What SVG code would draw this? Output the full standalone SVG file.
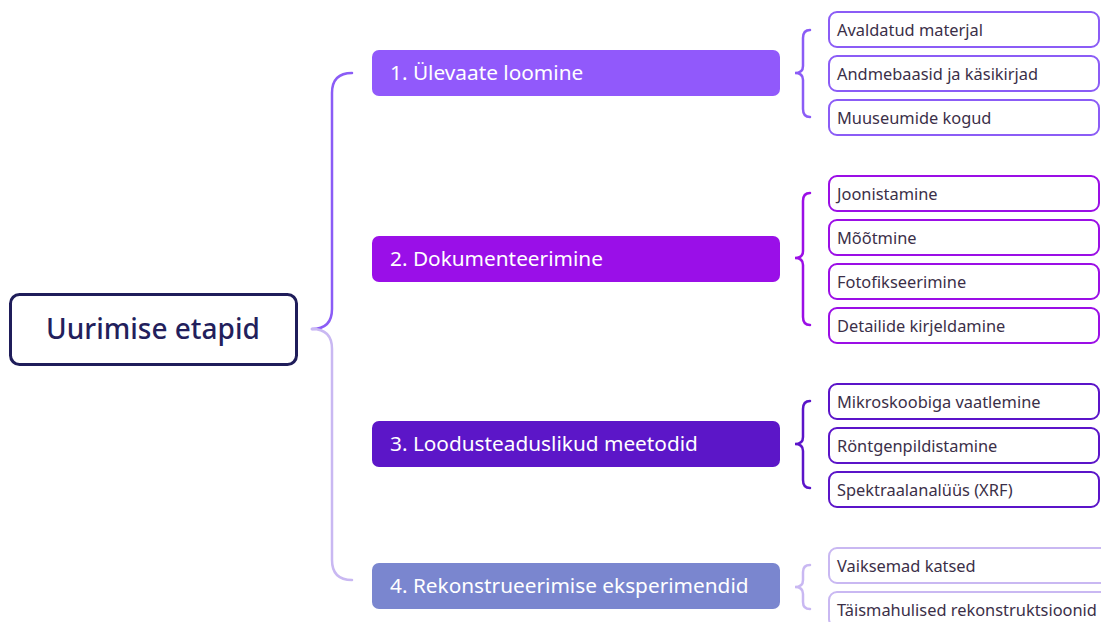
<svg xmlns="http://www.w3.org/2000/svg" width="1101" height="622" viewBox="0 0 1101 622">
<style>
.root{fill:#fff;stroke:#1f1d5a;stroke-width:3}
.roott{font-family:"Noto Sans",sans-serif;font-size:28px;fill:#231f5c;font-weight:500}
.stage{stroke:none}
.staget{font-family:"Noto Sans",sans-serif;font-size:20.8px;fill:#fff}
.leaf{fill:#fff;stroke-width:2}
.leaft{font-family:"Noto Sans",sans-serif;font-size:16.4px;fill:#3b2f48}
.br{fill:none;stroke-width:2.5;stroke-linecap:round}
</style>
<rect width="1101" height="622" fill="#fff"/>
<g id="connectors">
<path class="br" stroke="#8b5cf6" d="M352,73 Q332,73 332,93 L332,309 Q332,329 312,329"/>
<path class="br" stroke="#c9b8f2" d="M312,329 Q332,329 332,349 L332,560 Q332,580 352,580"/>
<path class="br" stroke="#8b5cf6" d="M810,30 Q803,30 803,38 L803,66 Q803,73 795,73 Q803,73 803,80 L803,109 Q803,117 810,117"/>
<path class="br" stroke="#9b0ee6" d="M810,193 Q803,193 803,201 L803,251 Q803,258 795,258 Q803,258 803,265 L803,317 Q803,325 810,325"/>
<path class="br" stroke="#5b14c9" d="M810,401 Q803,401 803,409 L803,437 Q803,444 795,444 Q803,444 803,451 L803,480 Q803,488 810,488"/>
<path class="br" stroke="#c9b8f2" d="M810,565 Q803,565 803,572 L803,580 Q803,587 795,587 Q803,587 803,594 L803,602 Q803,609 810,609"/>
</g>
<g id="root">
<rect class="root" x="10.5" y="294.5" width="286" height="70" rx="9"/>
<text class="roott" x="153" y="339" text-anchor="middle">Uurimise etapid</text>
</g>
<g id="stage1">
<rect class="stage" fill="#9159fb" x="372" y="50" width="408" height="46" rx="7"/>
<text class="staget" x="390" y="80">1. Ülevaate loomine</text>
</g>
<g id="stage2">
<rect class="stage" fill="#9a0fe8" x="372" y="236" width="408" height="46" rx="7"/>
<text class="staget" x="390" y="266">2. Dokumenteerimine</text>
</g>
<g id="stage3">
<rect class="stage" fill="#5c16c8" x="372" y="421" width="408" height="46" rx="7"/>
<text class="staget" x="390" y="451">3. Loodusteaduslikud meetodid</text>
</g>
<g id="stage4">
<rect class="stage" fill="#7a86cf" x="372" y="563" width="408" height="46" rx="7"/>
<text class="staget" x="390" y="593">4. Rekonstrueerimise eksperimendid</text>
</g>
<g id="leaf1a"><rect class="leaf" stroke="#8b5cf6" x="829" y="12" width="270" height="35" rx="8"/><text class="leaft" x="837" y="36">Avaldatud materjal</text></g>
<g id="leaf1b"><rect class="leaf" stroke="#8b5cf6" x="829" y="56" width="270" height="35" rx="8"/><text class="leaft" x="837" y="80">Andmebaasid ja käsikirjad</text></g>
<g id="leaf1c"><rect class="leaf" stroke="#8b5cf6" x="829" y="100" width="270" height="35" rx="8"/><text class="leaft" x="837" y="124">Muuseumide kogud</text></g>
<g id="leaf2a"><rect class="leaf" stroke="#9b0ee6" x="829" y="176" width="270" height="35" rx="8"/><text class="leaft" x="837" y="200">Joonistamine</text></g>
<g id="leaf2b"><rect class="leaf" stroke="#9b0ee6" x="829" y="220" width="270" height="35" rx="8"/><text class="leaft" x="837" y="244">Mõõtmine</text></g>
<g id="leaf2c"><rect class="leaf" stroke="#9b0ee6" x="829" y="264" width="270" height="35" rx="8"/><text class="leaft" x="837" y="288">Fotofikseerimine</text></g>
<g id="leaf2d"><rect class="leaf" stroke="#9b0ee6" x="829" y="308" width="270" height="35" rx="8"/><text class="leaft" x="837" y="332">Detailide kirjeldamine</text></g>
<g id="leaf3a"><rect class="leaf" stroke="#5b14c9" x="829" y="384" width="270" height="35" rx="8"/><text class="leaft" x="837" y="408">Mikroskoobiga vaatlemine</text></g>
<g id="leaf3b"><rect class="leaf" stroke="#5b14c9" x="829" y="428" width="270" height="35" rx="8"/><text class="leaft" x="837" y="452">Röntgenpildistamine</text></g>
<g id="leaf3c"><rect class="leaf" stroke="#5b14c9" x="829" y="472" width="270" height="35" rx="8"/><text class="leaft" x="837" y="496">Spektraalanalüüs (XRF)</text></g>
<g id="leaf4a"><rect class="leaf" stroke="#c9b8f2" x="829" y="548" width="290" height="35" rx="8"/><text class="leaft" x="837" y="572">Vaiksemad katsed</text></g>
<g id="leaf4b"><rect class="leaf" stroke="#c9b8f2" x="829" y="592" width="290" height="35" rx="8"/><text class="leaft" x="837" y="616">Täismahulised rekonstruktsioonid</text></g>
</svg>
